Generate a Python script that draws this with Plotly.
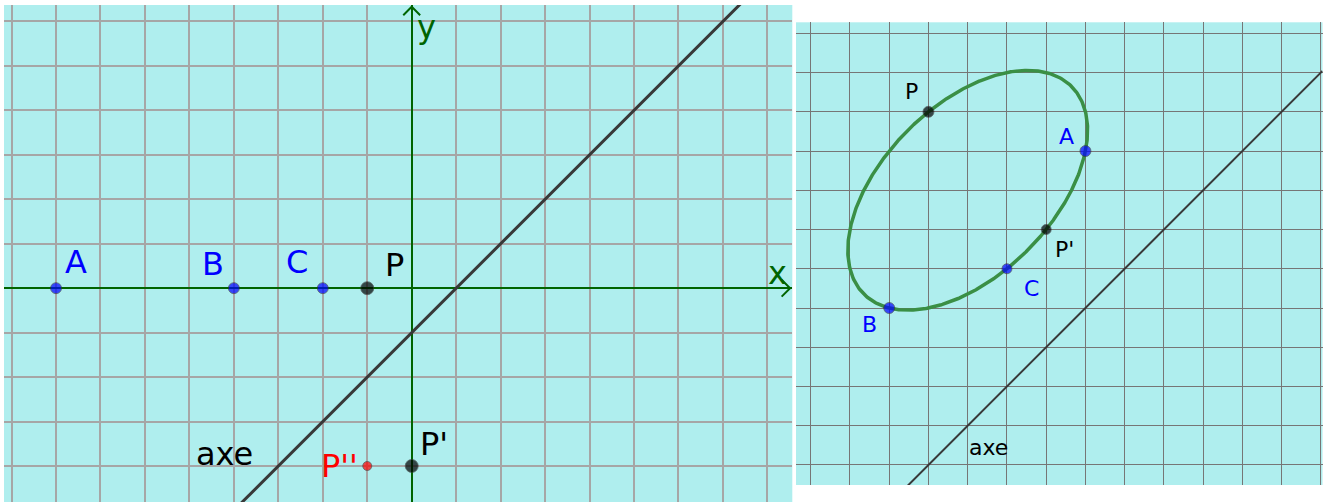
import numpy as np
import plotly.graph_objects as go

# ---------------- data ----------------
# Left panel: points on the x axis and their images
left_names = ["A", "B", "C", "P", "P'", "P''"]
left_x = [-8, -4, -2, -1, 0, -1]
left_y = [0, 0, 0, 0, -4, -4]
left_colors = ["#0000ff", "#0000ff", "#0000ff", "#000000", "#000000", "#ff0000"]
left_sizes = [11, 11, 11, 13, 13, 9]
left_label_dx = [20, -21, -26, 27, 22, -28]
left_label_dy = [26, 24, 26, 23, 22, 0]
axe_left_slope = 1
axe_left_intercept = -1

# Right panel: conic through five points
right_names = ["P", "A", "P'", "C", "B"]
right_x = [3, 7, 6, 5, 2]
right_y = [6, 5, 3, 2, 1]
right_colors = ["#000000", "#0000ff", "#000000", "#0000ff", "#0000ff"]
right_sizes = [11, 11, 10, 10, 11]
right_label_dx = [-17, -19, 18, 25, -20]
right_label_dy = [20, 15, -20, -20, -16]
axe_right_slope = 1
axe_right_intercept = -6

# ---------------- geometry ----------------
LX = [-9.17, 8.56]
LY = [-4.81, 6.37]
RX = [-0.375, 13.04]
RY = [-3.51, 8.28]

W, H = 1329, 502
FONT = "DejaVu Sans"
CYAN = "#afeeee"
GREEN_AX = "#006400"

# conic through 5 points: a x^2 + b xy + c y^2 + d x + e y + f = 0
px = np.array(right_x, float)
py = np.array(right_y, float)
M = np.column_stack([px**2, px*py, py**2, px, py, np.ones_like(px)])
_, _, vt = np.linalg.svd(M)
a, b, c, d, e, f = vt[-1]
cx, cy = np.linalg.solve([[2*a, b], [b, 2*c]], [-d, -e])
fc = a*cx**2 + b*cx*cy + c*cy**2 + d*cx + e*cy + f
th = np.linspace(0, 2*np.pi, 721)
ux, uy = np.cos(th), np.sin(th)
r = np.sqrt(-fc / (a*ux**2 + b*ux*uy + c*uy**2))
ell_x = cx + r*ux
ell_y = cy + r*uy

fig = go.Figure()

# left "axe" line
lx_line = np.array(LX)
fig.add_trace(go.Scatter(x=lx_line, y=axe_left_slope*lx_line + axe_left_intercept,
                         mode="lines", line=dict(color="#383838", width=3),
                         xaxis="x", yaxis="y", hoverinfo="skip"))

# axis arrowheads (open chevrons) on the left panel
tipx = LX[1] - 0.05
tipy = LY[1] - 0.04
arm = 0.19
fig.add_trace(go.Scatter(x=[tipx - arm, tipx, tipx - arm], y=[arm, 0, -arm],
                         mode="lines", line=dict(color=GREEN_AX, width=2),
                         xaxis="x", yaxis="y", hoverinfo="skip"))
fig.add_trace(go.Scatter(x=[-arm, 0, arm], y=[tipy - arm, tipy, tipy - arm],
                         mode="lines", line=dict(color=GREEN_AX, width=2),
                         xaxis="x", yaxis="y", hoverinfo="skip"))

# left points
fig.add_trace(go.Scatter(x=left_x, y=left_y, mode="markers",
                         marker=dict(color=left_colors, size=left_sizes,
                                     line=dict(color="#333333", width=0.8)),
                         xaxis="x", yaxis="y", hoverinfo="skip"))

# right panel: axe line, ellipse, points
rx_line = np.array(RX)
fig.add_trace(go.Scatter(x=rx_line, y=axe_right_slope*rx_line + axe_right_intercept,
                         mode="lines", line=dict(color="#383838", width=2),
                         xaxis="x2", yaxis="y2", hoverinfo="skip"))
fig.add_trace(go.Scatter(x=ell_x, y=ell_y, mode="lines",
                         line=dict(color="#3a8f45", width=3.5),
                         xaxis="x2", yaxis="y2", hoverinfo="skip"))
fig.add_trace(go.Scatter(x=right_x, y=right_y, mode="markers",
                         marker=dict(color=right_colors, size=right_sizes,
                                     line=dict(color="#333333", width=0.8)),
                         xaxis="x2", yaxis="y2", hoverinfo="skip"))

ann = []
for n, x, y, col, dx, dy in zip(left_names, left_x, left_y, left_colors, left_label_dx, left_label_dy):
    ann.append(dict(x=x, y=y, xref="x", yref="y", text=n, showarrow=False,
                    xshift=dx, yshift=dy, xanchor="center", yanchor="middle",
                    font=dict(family=FONT, size=32, color=col)))
for n, x, y, col, dx, dy in zip(right_names, right_x, right_y, right_colors, right_label_dx, right_label_dy):
    ann.append(dict(x=x, y=y, xref="x2", yref="y2", text=n, showarrow=False,
                    xshift=dx, yshift=dy, xanchor="center", yanchor="middle",
                    font=dict(family=FONT, size=22, color=col)))
ann.append(dict(x=-4.21, y=-3.72, xref="x", yref="y", text="axe", showarrow=False,
                xanchor="center", yanchor="middle",
                font=dict(family=FONT, size=32, color="#000000")))
ann.append(dict(x=4.52, y=-2.55, xref="x2", yref="y2", text="axe", showarrow=False,
                xanchor="center", yanchor="middle",
                font=dict(family=FONT, size=22, color="#000000")))
ann.append(dict(x=8.22, y=0.34, xref="x", yref="y", text="x", showarrow=False,
                xanchor="center", yanchor="middle",
                font=dict(family=FONT, size=32, color=GREEN_AX)))
ann.append(dict(x=0.34, y=5.88, xref="x", yref="y", text="y", showarrow=False,
                xanchor="center", yanchor="middle",
                font=dict(family=FONT, size=32, color=GREEN_AX)))

common = dict(showticklabels=False, ticks="", dtick=1, tick0=0, showline=False,
              fixedrange=True)
fig.update_layout(
    width=W, height=H,
    margin=dict(l=0, r=0, t=0, b=0),
    paper_bgcolor="white",
    plot_bgcolor=CYAN,
    showlegend=False,
    annotations=ann,
    xaxis=dict(domain=[4/W, 792.3/W], range=LX, anchor="y", showgrid=True,
               gridcolor="#a6a6a6", gridwidth=1.5, zeroline=True,
               zerolinecolor=GREEN_AX, zerolinewidth=2, **common),
    yaxis=dict(domain=[0, 1 - 5/H], range=LY, anchor="x", showgrid=True,
               gridcolor="#a6a6a6", gridwidth=1.5, zeroline=True,
               zerolinecolor=GREEN_AX, zerolinewidth=2, **common),
    xaxis2=dict(domain=[796/W, 1322.5/W], range=RX, anchor="y2", showgrid=True,
                gridcolor="#767676", gridwidth=1.4, zeroline=False, **common),
    yaxis2=dict(domain=[1 - 485/H, 1 - 22.3/H], range=RY, anchor="x2", showgrid=True,
                gridcolor="#767676", gridwidth=1.4, zeroline=False, **common),
)

fig.write_html("out.html", config=dict(displayModeBar=False),
               post_script="document.body.style.margin='0';document.body.style.overflow='hidden';")
